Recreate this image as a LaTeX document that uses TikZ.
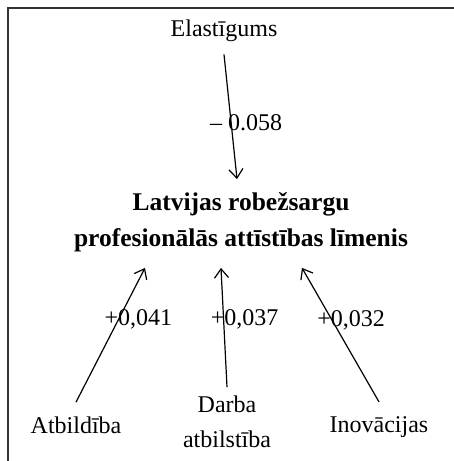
\documentclass[tikz,border=0pt]{standalone}
\usepackage{fontspec}
\setmainfont{Liberation Serif}
\usetikzlibrary{arrows.meta}
\usetikzlibrary{positioning}

\tikzset{
  factor/.style={font=\fontsize{24}{35}\selectfont, align=center, inner sep=0pt},
  weight/.style={font=\fontsize{24}{28}\selectfont, inner sep=0pt},
  link/.style={line width=1.2pt, -{Straight Barb[length=9pt,width=14pt]}},
}

\begin{document}
\begin{tikzpicture}[x=1pt, y=-1pt]
  \useasboundingbox (0,0) rectangle (453,461);
  \draw [line width=1.5pt, black!80] (470,8) -- (8,8) -- (8,470);

  \node [font=\bfseries\fontsize{25.5}{36}\selectfont, align=center, inner sep=0pt](level) at (241,222) {Latvijas robežsargu\\profesionālās attīstības līmenis};

  \node [factor, anchor=base](elast) at (224,36) {Elastīgums};
  \node [factor, anchor=base](atbild) at (76,433) {Atbildība};
  \node [factor, anchor=base](darba) at (227,447) {Darba\\atbilstība};
  \node [factor, anchor=base](inov) at (379,432) {Inovācijas};

  % Elastigums to level: 
  \draw [link] ([yshift=-13pt]elast.south) -- node [weight, pos=0.55, xshift=15pt](wElast) {-- 0.058} ([xshift=-4pt, yshift=13pt]level.north);

  % factors to level: 
  \draw [link] ([yshift=14pt]atbild.north) -- node [weight, pos=0.615, xshift=20pt](wAtbild) {+0,041} ([xshift=-96pt, yshift=-16pt]level.south);
  \draw [link] ([yshift=8pt]darba.north) -- node [weight, pos=0.57, xshift=21pt](wDarba) {+0,037} ([xshift=-20pt, yshift=-16pt]level.south);
  \draw [link] ([yshift=14pt]inov.north) -- node [weight, pos=0.61, xshift=19pt](wInov) {+0,032} ([xshift=61pt, yshift=-16pt]level.south);

\end{tikzpicture}
\end{document}
